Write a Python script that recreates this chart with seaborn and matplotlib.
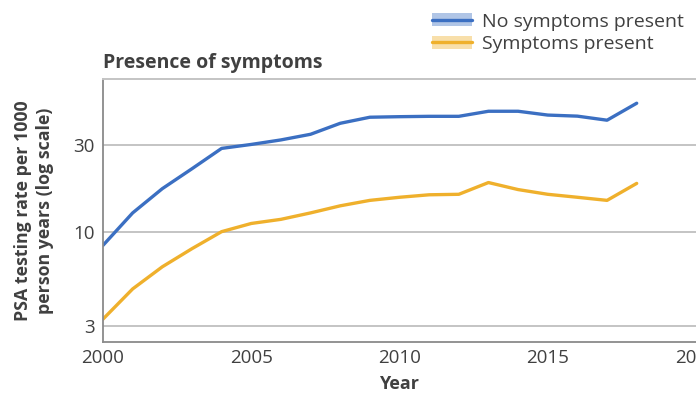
import pandas as pd
import matplotlib
matplotlib.use("Agg")
import matplotlib.pyplot as plt
import seaborn as sns
from matplotlib.lines import Line2D
from matplotlib.patches import Patch

# values (rate per 1000 person years)
years = list(range(2000, 2019))
no_symptoms = [8.4, 12.7, 17.3, 22.3, 28.9, 30.4, 32.2, 34.6, 39.8, 43.0,
               43.3, 43.5, 43.5, 46.4, 46.4, 44.2, 43.6, 41.4, 51.4]
symptoms = [3.28, 4.82, 6.39, 8.05, 10.0, 11.1, 11.7, 12.7, 13.9, 14.9,
            15.5, 16.0, 16.1, 18.7, 17.1, 16.1, 15.5, 14.9, 18.5]
series_names = ["No symptoms present", "Symptoms present"]
colors = ["#3b6fc2", "#efb02c"]
y_ticks = [3, 10, 30]
x_ticks = [2000, 2005, 2010, 2015, 2020]

df = pd.DataFrame({
    "Year": years * 2,
    "rate": no_symptoms + symptoms,
    "group": [series_names[0]] * len(years) + [series_names[1]] * len(years),
})

sns.set_style("white")
plt.rcParams["font.family"] = ["Open Sans", "DejaVu Sans"]
text_col = "#404040"
grid_col = "#c4c4c4"

fig = plt.figure(figsize=(6.96, 4.0), dpi=100)
ax = fig.add_axes([0.148, 0.145, 0.852, 0.6575])

sns.lineplot(data=df, x="Year", y="rate", hue="group", palette=colors,
             linewidth=2.4, ax=ax, legend=False)

ax.set_yscale("log")
ax.set_ylim(2.45, 70)
ax.set_xlim(2000, 2020)
ax.set_yticks(y_ticks)
ax.set_yticklabels([str(t) for t in y_ticks])
ax.yaxis.set_minor_locator(matplotlib.ticker.NullLocator())
ax.set_xticks(x_ticks)
ax.grid(axis="y", color=grid_col, linewidth=1.4)
ax.set_axisbelow(True)

for s in ["left", "bottom"]:
    ax.spines[s].set_color("#8a8a8a")
    ax.spines[s].set_linewidth(1.3)
ax.spines["top"].set_color(grid_col)
ax.spines["top"].set_linewidth(1.4)
ax.spines["right"].set_visible(False)

ax.tick_params(axis="x", direction="in", length=6, width=1.2, color="#8a8a8a",
               labelsize=13.5, labelcolor=text_col, pad=5)
ax.tick_params(axis="y", length=0, labelsize=13.5, labelcolor=text_col, pad=6)

ax.set_xlabel("Year", fontsize=13, fontweight="bold", color=text_col, labelpad=6)
ax.set_ylabel("PSA testing rate per 1000\nperson years (log scale)", fontsize=12.8,
              fontweight="bold", color=text_col, labelpad=14, linespacing=1.25)
ax.set_title("Presence of symptoms", loc="left", fontsize=14, fontweight="bold",
             color=text_col, pad=8)

handles = [(Patch(facecolor=c, alpha=0.4, edgecolor="none"), Line2D([], [], color=c, linewidth=2.4))
           for c in colors]
fig.legend(handles, series_names, loc="upper left", bbox_to_anchor=(0.596, 1.012),
           frameon=False, fontsize=14, labelcolor=text_col, handlelength=2.05,
           handleheight=0.67, handletextpad=0.5, labelspacing=0.22)

fig.savefig("out.png", dpi=100)
